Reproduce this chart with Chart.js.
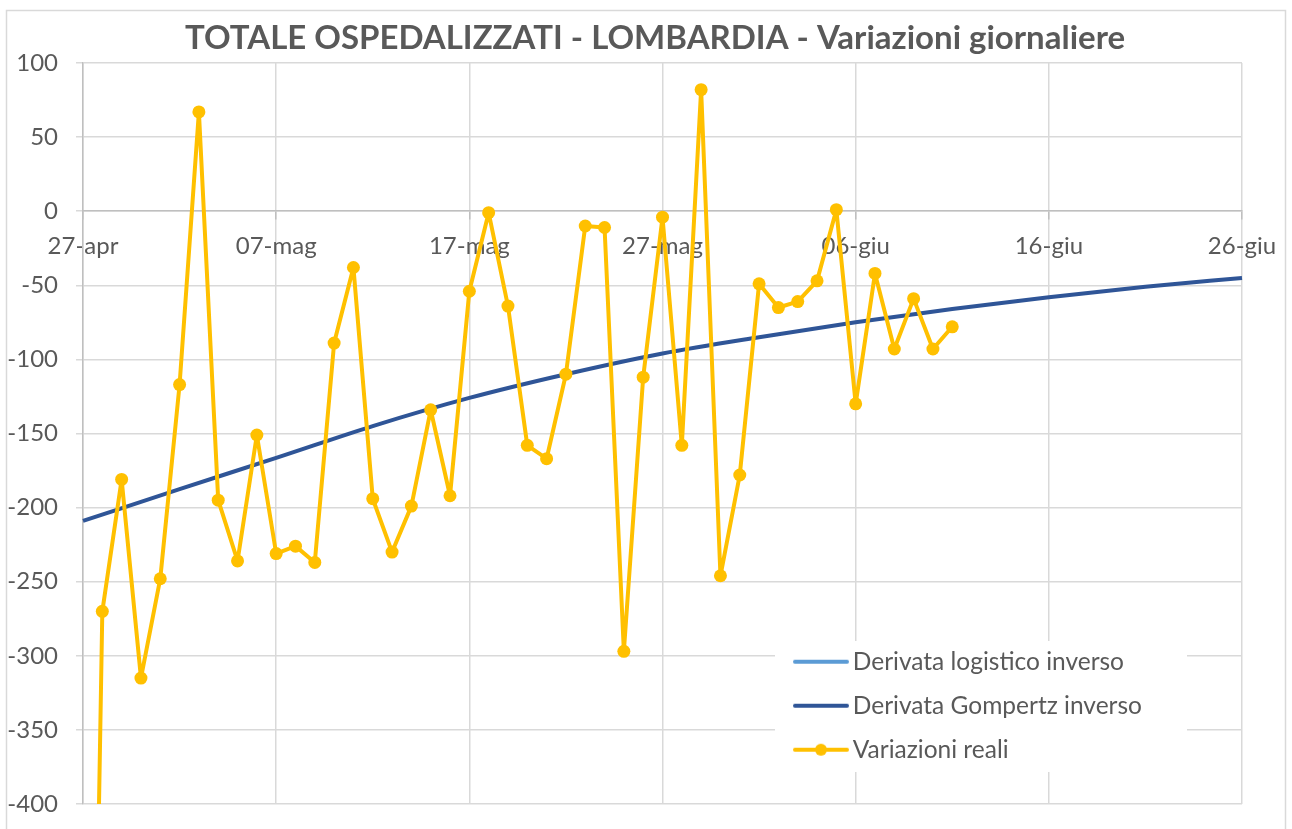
<!DOCTYPE html>
<html lang="it">
<head>
<meta charset="UTF-8">
<title>Totale ospedalizzati - Lombardia</title>
<script src="https://cdn.jsdelivr.net/npm/chart.js"></script>
<style>
  body { margin: 0; background: #fff; }
  canvas { display: block; }
</style>
</head>
<body>
<canvas id="grafico" width="1292" height="829"></canvas>
<script>
// giorni sull'asse x
const giorni = [
  '27-apr','28-apr','29-apr','30-apr',
  '01-mag','02-mag','03-mag','04-mag','05-mag','06-mag','07-mag','08-mag','09-mag','10-mag',
  '11-mag','12-mag','13-mag','14-mag','15-mag','16-mag','17-mag','18-mag','19-mag','20-mag',
  '21-mag','22-mag','23-mag','24-mag','25-mag','26-mag','27-mag','28-mag','29-mag','30-mag','31-mag',
  '01-giu','02-giu','03-giu','04-giu','05-giu','06-giu','07-giu','08-giu','09-giu','10-giu',
  '11-giu','12-giu','13-giu','14-giu','15-giu','16-giu','17-giu','18-giu','19-giu','20-giu',
  '21-giu','22-giu','23-giu','24-giu','25-giu','26-giu'
];
const etichetteAsseX = ['27-apr','07-mag','17-mag','27-mag','06-giu','16-giu','26-giu'];

// variazioni reali (dal 27-apr)
const variazioniReali = [
  -1030, -270, -181, -315, -248, -117, 67, -195, -236, -151,
  -231, -226, -237, -89, -38, -194, -230, -199, -134, -192,
  -54, -1, -64, -158, -167, -110, -10, -11, -297, -112,
  -4, -158, 82, -246, -178, -49, -65, -61, -47, 1,
  -130, -42, -93, -59, -93, -78
];

// derivata Gompertz inverso, letta ogni 5 giorni
const giorniGompertz = ['27-apr','02-mag','07-mag','12-mag','17-mag','22-mag','27-mag','01-giu','06-giu','11-giu','16-giu','21-giu','26-giu'];
const valoriGompertz = [-209, -187.5, -166.5, -145, -126, -110, -96, -85, -75, -66, -58, -51, -45];

// derivata logistico inverso: non visibile nel grafico
const valoriLogistico = [];

const GRIGIO = '#595959';
const FONT = "Lato, 'Open Sans', sans-serif";

// simboli della legenda (linea, linea con punto)
function simboloLegenda(colore, conPunto) {
  const c = document.createElement('canvas');
  c.width = 56; c.height = 16;
  const g = c.getContext('2d');
  g.strokeStyle = colore;
  g.lineWidth = 4;
  g.lineCap = 'round';
  g.beginPath(); g.moveTo(2, 8); g.lineTo(54, 8); g.stroke();
  if (conPunto) {
    g.fillStyle = colore;
    g.beginPath(); g.arc(28, 8, 6, 0, Math.PI * 2); g.fill();
  }
  return c;
}
const simboli = [
  simboloLegenda('#5B9BD5', false),
  simboloLegenda('#2F5597', false),
  simboloLegenda('#FFC000', true)
];

// cornice esterna e sfondo bianco
const cornice = {
  id: 'cornice',
  beforeDraw(chart) {
    const ctx = chart.ctx;
    ctx.save();
    ctx.fillStyle = '#fff';
    ctx.fillRect(0, 0, chart.width, chart.height);
    ctx.strokeStyle = '#d9d9d9';
    ctx.lineWidth = 1.5;
    ctx.strokeRect(6.5, 10.5, 1279, 840);
    ctx.restore();
  }
};

// legenda in basso a destra dentro l'area del grafico, titolo un po' a destra
const legendaInterna = {
  id: 'legendaInterna',
  afterLayout(chart) {
    const t = chart.titleBlock;
    t.left = 18; t.right = 1292; t.width = t.right - t.left;

    const lg = chart.legend;
    lg.left = 782; lg.top = 630; lg.right = 1190; lg.bottom = 805;
    lg.width = lg.right - lg.left;
    lg.height = lg.bottom - lg.top;
    if (!lg._sfondo) {
      const disegna = lg.draw;
      lg.draw = function () {
        const ctx = this.ctx;
        ctx.save();
        ctx.fillStyle = '#fff';
        ctx.fillRect(775, 641, 412, 131);
        ctx.restore();
        disegna.apply(this, arguments);
      };
      lg._sfondo = true;
    }
  }
};

new Chart(document.getElementById('grafico'), {
  type: 'line',
  data: {
    labels: giorni,
    datasets: [
      {
        label: 'Derivata logistico inverso',
        data: valoriLogistico,
        borderColor: '#5B9BD5',
        backgroundColor: '#5B9BD5',
        borderWidth: 4,
        pointRadius: 0,
        order: 2
      },
      {
        label: 'Derivata Gompertz inverso',
        data: giorniGompertz.map((g, i) => ({ x: g, y: valoriGompertz[i] })),
        borderColor: '#2F5597',
        backgroundColor: '#2F5597',
        borderWidth: 4,
        pointRadius: 0,
        cubicInterpolationMode: 'monotone',
        spanGaps: true,
        order: 1
      },
      {
        label: 'Variazioni reali',
        data: variazioniReali,
        borderColor: '#FFC000',
        backgroundColor: '#FFC000',
        borderWidth: 4,
        borderJoinStyle: 'round',
        pointRadius: 6.5,
        pointHoverRadius: 6.5,
        pointBorderWidth: 0,
        order: 0
      }
    ]
  },
  options: {
    responsive: false,
    animation: false,
    events: [],
    layout: { padding: { left: 0, right: 50, top: 0, bottom: 25 } },
    plugins: {
      title: {
        display: true,
        text: 'TOTALE OSPEDALIZZATI - LOMBARDIA - Variazioni giornaliere',
        color: GRIGIO,
        font: { family: FONT, size: 33, weight: 'bold', lineHeight: 1.2 },
        padding: { top: 19, bottom: 4.4 }
      },
      legend: {
        position: 'chartArea',
        align: 'start',
        labels: {
          usePointStyle: true,
          pointStyleWidth: 39,
          boxHeight: 16,
          padding: 19.5,
          color: GRIGIO,
          font: { family: FONT, size: 24.5 },
          sort: (a, b) => a.datasetIndex - b.datasetIndex,
          generateLabels(chart) {
            const voci = Chart.defaults.plugins.legend.labels.generateLabels(chart);
            voci.forEach(v => { v.pointStyle = simboli[v.datasetIndex]; });
            return voci;
          }
        }
      },
      tooltip: { enabled: false }
    },
    scales: {
      x: {
        type: 'category',
        position: { y: 0 },
        offset: false,
        grid: {
          color: c => (c.index % 10 === 0 ? '#d9d9d9' : 'transparent'),
          tickColor: c => (c.index % 10 === 0 ? '#bfbfbf' : 'transparent'),
          lineWidth: 1.5,
          tickLength: 8
        },
        border: { color: '#bfbfbf', width: 1.5 },
        ticks: {
          autoSkip: false,
          maxRotation: 0,
          padding: 12.6,
          color: GRIGIO,
          font: { family: FONT, size: 24 },
          callback: function (v) {
            const l = this.getLabelForValue(v);
            return etichetteAsseX.includes(l) ? l : '';
          }
        }
      },
      y: {
        min: -400,
        max: 100,
        ticks: {
          stepSize: 50,
          padding: 18,
          color: GRIGIO,
          font: { family: FONT, size: 24 }
        },
        grid: { color: '#d9d9d9', lineWidth: 1.5, tickLength: 7 },
        border: { color: '#bfbfbf', width: 1.5 },
        afterFit(s) {
          s.width = 83;
          s.paddingTop = 0;
          s.paddingBottom = 0;
        }
      }
    }
  },
  plugins: [cornice, legendaInterna]
});
</script>
</body>
</html>
